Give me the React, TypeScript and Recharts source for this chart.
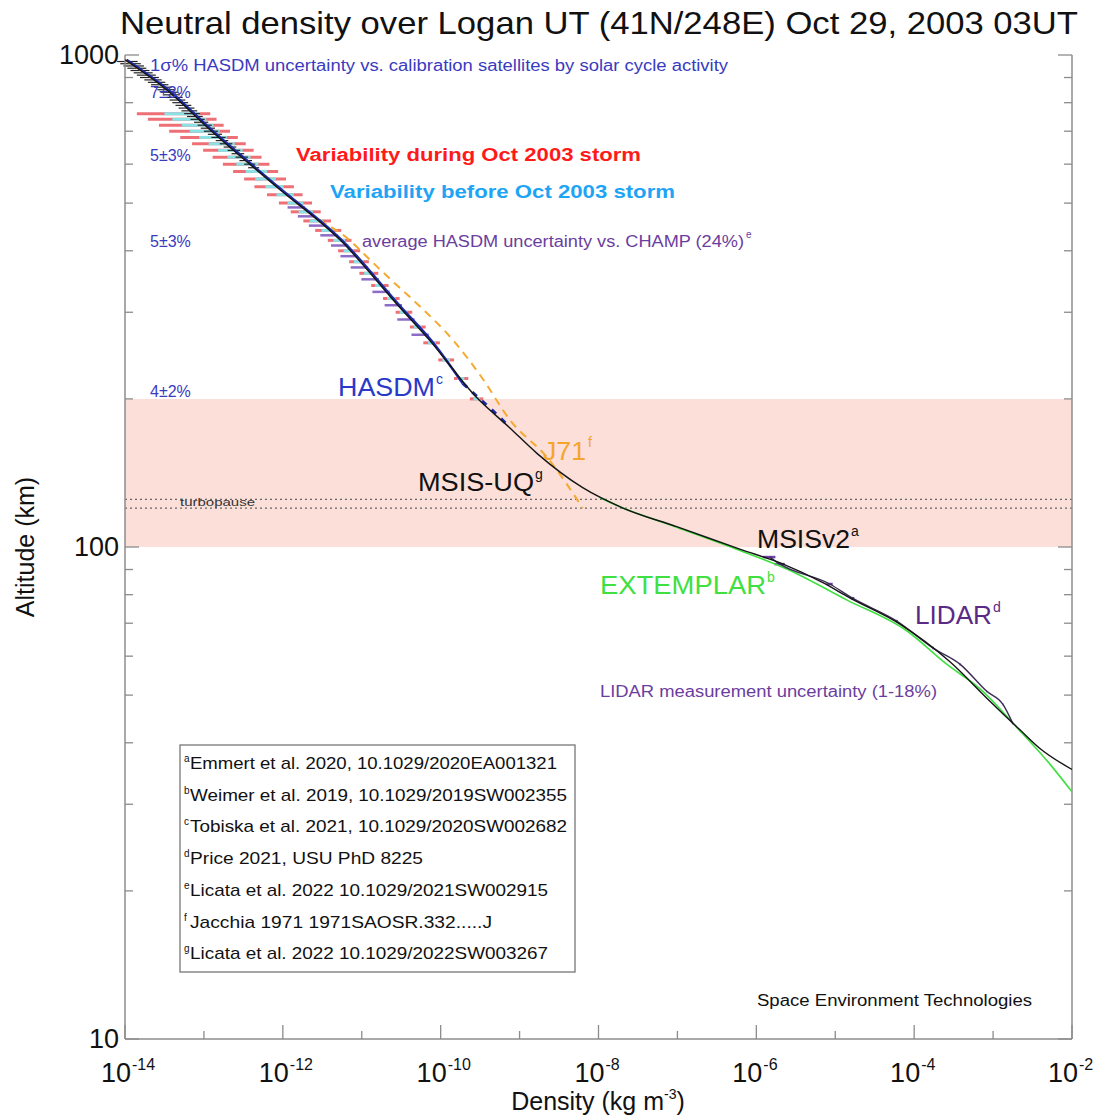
import React from 'react';
import { ScatterChart, Scatter, XAxis, YAxis, ErrorBar, ReferenceArea, ReferenceLine } from 'recharts';

const FONT = '"Liberation Sans", Arial, Helvetica, sans-serif';

// all densities are log10(kg m^-3), altitudes in km

// MSIS-UQ / MSISv2 profile
const msisAlt = [978, 849, 704, 538, 420, 307, 263, 201, 175, 155, 132, 120, 110, 99, 92.3, 84.5, 78.7, 69.7, 58.5, 48.6, 42.5, 39, 35.3];
const msisLogDen = [-14.0, -13.47, -12.92, -12.07, -11.27, -10.52, -10.14, -9.54, -9.13, -8.78, -8.2, -7.69, -7.01, -6.21, -5.66, -5.15, -4.81, -4.18, -3.55, -3.04, -2.66, -2.41, -2.0];

// HASDM profile (solid part + dashed tail)
const hasdmAlt = [978, 849, 704, 538, 420, 307, 263, 215];
const hasdmLogDen = [-13.98, -13.45, -12.9, -12.05, -11.25, -10.5, -10.12, -9.72];
const hasdmTailAlt = [215, 201, 188, 175];
const hasdmTailLogDen = [-9.72, -9.52, -9.32, -9.12];

// Jacchia 1971
const j71Alt = [978, 849, 704, 538, 470, 425, 380, 348, 307, 263, 220, 181, 152, 120];
const j71LogDen = [-14.0, -13.46, -12.9, -12.05, -11.6, -11.19, -10.87, -10.62, -10.25, -9.84, -9.47, -9.12, -8.65, -8.2];

// EXTEMPLAR
const extAlt = [125.9, 120, 110, 99, 90, 78, 67.5, 58, 50.9, 43, 36.2, 31.8];
const extLogDen = [-7.98, -7.69, -7.03, -6.25, -5.6, -4.85, -4.09, -3.6, -3.13, -2.7, -2.28, -2.0];

// LIDAR with measurement uncertainty (%)
const lidarAlt = [95.4, 92.3, 84.1, 78.7, 70.7, 62.3, 57.8, 50.9, 47.9, 43.8];
const lidarLogDen = [-5.83, -5.7, -5.07, -4.78, -4.22, -3.76, -3.42, -3.08, -2.875, -2.75];
const lidarErrPct = [18, 15, 9, 5, 3, 2, 1.5, 1, 1, 1];

// HASDM variability bars, during (red) and before (cyan) the Oct 2003 storm
const barAlt = [760, 740, 720, 700, 680, 660, 640, 620, 600, 580, 560, 540, 520, 500, 480, 460, 440, 420, 400, 380, 360, 340, 320, 300, 280, 260, 240, 220, 200];
const barMid = [-13.15, -13.08, -12.99, -12.91, -12.815, -12.72, -12.62, -12.52, -12.42, -12.31, -12.2, -12.09, -11.96, -11.83, -11.71, -11.57, -11.43, -11.28, -11.16, -11.035, -10.9, -10.77, -10.62, -10.465, -10.29, -10.11, -9.93, -9.74, -9.54];
const redLo = [-13.85, -13.71, -13.57, -13.44, -13.3, -13.15, -13.01, -12.89, -12.76, -12.63, -12.49, -12.36, -12.2, -12.05, -11.9, -11.74, -11.59, -11.43, -11.3, -11.16, -11.03, -10.88, -10.73, -10.57, -10.39, -10.22, -10.03, -9.83, -9.63];
const redHi = [-12.92, -12.84, -12.75, -12.67, -12.57, -12.47, -12.37, -12.27, -12.17, -12.06, -11.96, -11.86, -11.75, -11.63, -11.52, -11.39, -11.26, -11.13, -11.02, -10.91, -10.79, -10.66, -10.52, -10.36, -10.19, -10.01, -9.83, -9.65, -9.46];
const cyanLo = [-13.5, -13.4, -13.28, -13.18, -13.06, -12.94, -12.82, -12.7, -12.59, -12.47, -12.35, -12.22, -12.08, -11.94, -11.8, -11.66, -11.51, -11.36, -11.23, -11.1, -10.97, -10.83, -10.68, -10.52, -10.34, -10.16, -9.98, -9.79, -9.585];
const cyanHi = [-13.05, -12.97, -12.88, -12.8, -12.71, -12.61, -12.51, -12.41, -12.31, -12.2, -12.09, -11.99, -11.86, -11.74, -11.62, -11.49, -11.35, -11.21, -11.1, -10.98, -10.85, -10.72, -10.57, -10.42, -10.24, -10.06, -9.88, -9.7, -9.5];

// HASDM vs CHAMP bars
const champAlt = [490, 470, 450, 430, 410, 390, 370, 350, 330, 310, 290, 270];
const champMid = [-11.77, -11.64, -11.5, -11.355, -11.22, -11.1, -10.97, -10.835, -10.695, -10.54, -10.38, -10.2];
const champLo = [-11.94, -11.81, -11.67, -11.525, -11.39, -11.27, -11.14, -11.005, -10.865, -10.71, -10.55, -10.37];
const champHi = [-11.72, -11.59, -11.45, -11.305, -11.17, -11.05, -10.92, -10.785, -10.645, -10.49, -10.33, -10.15];

// 1-sigma HASDM vs calibration satellites
const sigAlt = [970, 960, 950, 940, 930, 920, 910, 900, 890, 880, 870, 860, 850, 840, 830, 820, 810, 800, 790, 780, 770, 760, 750, 740, 730, 720, 710, 700, 690, 680, 670, 660, 650, 640, 630, 620, 610, 600, 590];
const sigMid = [-13.97, -13.93, -13.89, -13.85, -13.81, -13.77, -13.73, -13.69, -13.645, -13.6, -13.56, -13.52, -13.48, -13.44, -13.405, -13.37, -13.335, -13.3, -13.26, -13.22, -13.185, -13.15, -13.115, -13.08, -13.035, -12.99, -12.95, -12.91, -12.86, -12.815, -12.77, -12.72, -12.67, -12.62, -12.57, -12.52, -12.47, -12.42, -12.37];
const sigHalf = [0.13, 0.13, 0.13, 0.12, 0.12, 0.12, 0.12, 0.12, 0.11, 0.11, 0.11, 0.11, 0.11, 0.11, 0.1, 0.1, 0.1, 0.1, 0.1, 0.1, 0.1, 0.1, 0.1, 0.09, 0.09, 0.09, 0.09, 0.09, 0.09, 0.09, 0.08, 0.08, 0.08, 0.08, 0.08, 0.08, 0.08, 0.07, 0.07];

const xTicks = [1e-14, 1e-13, 1e-12, 1e-11, 1e-10, 1e-9, 1e-8, 1e-7, 1e-6, 1e-5, 1e-4, 1e-3, 1e-2];
const yTicks = [10, 20, 30, 40, 50, 60, 70, 80, 90, 100, 200, 300, 400, 500, 600, 700, 800, 900, 1000];

const den = (e: number) => 10 ** e;
const profile = (alt: number[], logDen: number[]) => alt.map((a, i) => ({ d: den(logDen[i]), alt: a }));
const bars = (alt: number[], mid: number[], lo: number[], hi: number[]) =>
  alt.map((a, i) => {
    const d = den(mid[i]);
    return { d, alt: a, err: [d - den(lo[i]), den(hi[i]) - d] };
  });

const msisData = profile(msisAlt, msisLogDen);
const hasdmData = profile(hasdmAlt, hasdmLogDen);
const hasdmTail = profile(hasdmTailAlt, hasdmTailLogDen);
const j71Data = profile(j71Alt, j71LogDen);
const extData = profile(extAlt, extLogDen);
const lidarData = lidarAlt.map((a, i) => {
  const d = den(lidarLogDen[i]);
  return { d, alt: a, err: [d * lidarErrPct[i] / 100, d * lidarErrPct[i] / 100] };
});
const redData = bars(barAlt, barMid, redLo, redHi);
const cyanData = bars(barAlt, barMid, cyanLo, cyanHi);
const champData = bars(champAlt, champMid, champLo, champHi);
const sigData = sigAlt.map((a, i) => {
  const d = den(sigMid[i]);
  return { d, alt: a, err: [d - den(sigMid[i] - sigHalf[i]), den(sigMid[i] + sigHalf[i]) - d] };
});

const hidden = () => <g />;
const AXIS = '#8c8c8c';

function BottomTick({ x, y, payload }: any) {
  const e = Math.round(Math.log10(payload.value));
  const major = e % 2 === 0;
  return (
    <g>
      <line x1={x} y1={y} x2={x} y2={y - (major ? 14 : 8)} stroke={AXIS} strokeWidth={1.3} />
      {major && (
        <g fontFamily={FONT} fill="#111">
          <text x={x + 6} y={y + 43} textAnchor="end" fontSize={27}>10</text>
          <text x={x + 7} y={y + 31} fontSize={16}>{e}</text>
        </g>
      )}
    </g>
  );
}

function TopTick({ x, y, payload }: any) {
  const e = Math.round(Math.log10(payload.value));
  return <line x1={x} y1={y} x2={x} y2={y + (e % 2 === 0 ? 14 : 8)} stroke={AXIS} strokeWidth={1.3} />;
}

function LeftTick({ x, y, payload }: any) {
  const v = payload.value;
  const major = v === 10 || v === 100 || v === 1000;
  return (
    <g>
      <line x1={x} y1={y} x2={x + (major ? 14 : 8)} y2={y} stroke={AXIS} strokeWidth={1.3} />
      {major && (
        <text x={x - 6} y={y + 9} textAnchor="end" fontSize={27} fill="#111" fontFamily={FONT}>
          {v}
        </text>
      )}
    </g>
  );
}

function RightTick({ x, y, payload }: any) {
  const v = payload.value;
  const major = v === 10 || v === 100 || v === 1000;
  return <line x1={x} y1={y} x2={x - (major ? 14 : 8)} y2={y} stroke={AXIS} strokeWidth={1.3} />;
}

function T({ x, y, s, c = '#111', w, b, children }: any) {
  return (
    <text x={x} y={y} fontSize={s} fill={c} fontWeight={b ? 'bold' : 'normal'} fontFamily={FONT}
      textLength={w} lengthAdjust={w ? 'spacingAndGlyphs' : undefined}>
      {children}
    </text>
  );
}

const refs = [
  ['a', 'Emmert et al. 2020, 10.1029/2020EA001321', 557],
  ['b', 'Weimer et al. 2019, 10.1029/2019SW002355', 567],
  ['c', 'Tobiska et al. 2021, 10.1029/2020SW002682', 567],
  ['d', 'Price 2021, USU PhD 8225', 423],
  ['e', 'Licata et al. 2022 10.1029/2021SW002915', 548],
  ['f', 'Jacchia 1971 1971SAOSR.332.....J', 492],
  ['g', 'Licata et al. 2022 10.1029/2022SW003267', 548],
];

export default function App() {
  return (
    <div style={{ position: 'absolute', left: 0, top: 0, width: 1096, height: 1117, background: '#fff', fontFamily: FONT }}>
      <ScatterChart width={1096} height={1117} margin={{ top: 55, right: 0, bottom: 0, left: 0 }}>
        <XAxis type="number" dataKey="d" scale="log" domain={[1e-14, 1e-2]} ticks={xTicks} interval={0}
          allowDataOverflow height={78} tickSize={0} tickMargin={0} tickLine={false} tick={<BottomTick />}
          axisLine={{ stroke: AXIS, strokeWidth: 1.5 }} />
        <XAxis xAxisId="top" orientation="top" type="number" dataKey="d" scale="log" domain={[1e-14, 1e-2]}
          ticks={xTicks} interval={0} allowDataOverflow height={0} tickSize={0} tickMargin={0} tickLine={false}
          tick={<TopTick />} axisLine={{ stroke: AXIS, strokeWidth: 1.5 }} />
        <YAxis type="number" dataKey="alt" scale="log" domain={[10, 1000]} ticks={yTicks} interval={0}
          allowDataOverflow width={125} tickSize={0} tickMargin={0} tickLine={false} tick={<LeftTick />}
          axisLine={{ stroke: AXIS, strokeWidth: 1.5 }} />
        <YAxis yAxisId="right" orientation="right" type="number" dataKey="alt" scale="log" domain={[10, 1000]}
          ticks={yTicks} interval={0} allowDataOverflow width={24} tickSize={0} tickMargin={0} tickLine={false}
          tick={<RightTick />} axisLine={{ stroke: AXIS, strokeWidth: 1.5 }} />

        <ReferenceArea x1={1e-14} x2={1e-2} y1={100} y2={200} fill="#fbdfd8" fillOpacity={1} stroke="none" />
        <ReferenceLine y={125} stroke="#666" strokeDasharray="2 3" strokeWidth={1.2} />
        <ReferenceLine y={120} stroke="#666" strokeDasharray="2 3" strokeWidth={1.2} />

        <Scatter data={redData} shape={hidden} isAnimationActive={false} legendType="none">
          <ErrorBar dataKey="err" direction="x" width={0} stroke="#ee6f76" strokeWidth={3} isAnimationActive={false} />
        </Scatter>
        <Scatter data={cyanData} shape={hidden} isAnimationActive={false} legendType="none">
          <ErrorBar dataKey="err" direction="x" width={0} stroke="#8ae2e6" strokeWidth={3} isAnimationActive={false} />
        </Scatter>
        <Scatter data={champData} shape={hidden} isAnimationActive={false} legendType="none">
          <ErrorBar dataKey="err" direction="x" width={0} stroke="#8c6cc6" strokeWidth={2.5} isAnimationActive={false} />
        </Scatter>

        <Scatter data={j71Data} shape={hidden} fill="#f5a930" line={{ stroke: '#f5a930', strokeWidth: 2, strokeDasharray: '8 6' }}
          lineJointType="monotoneX" isAnimationActive={false} legendType="none" />
        <Scatter data={hasdmData} shape={hidden} fill="#1c2aa8" line={{ stroke: '#1c2aa8', strokeWidth: 2.4 }}
          lineJointType="monotoneX" isAnimationActive={false} legendType="none" />
        <Scatter data={hasdmTail} shape={hidden} fill="#1c2aa8" line={{ stroke: '#1c2aa8', strokeWidth: 3, strokeDasharray: '6 7' }}
          isAnimationActive={false} legendType="none" />
        <Scatter data={extData} shape={hidden} fill="#3fe03f" line={{ stroke: '#3fe03f', strokeWidth: 1.6 }}
          lineJointType="monotoneX" isAnimationActive={false} legendType="none" />
        <Scatter data={lidarData} shape={hidden} fill="#3c2c55" line={{ stroke: '#3c2c55', strokeWidth: 1.4 }}
          lineJointType="monotoneX" isAnimationActive={false} legendType="none">
          <ErrorBar dataKey="err" direction="x" width={0} stroke="#6e40a8" strokeWidth={2.5} isAnimationActive={false} />
        </Scatter>
        <Scatter data={msisData} shape={hidden} fill="#151515" line={{ stroke: '#151515', strokeWidth: 1.4 }}
          lineJointType="monotoneX" isAnimationActive={false} legendType="none" />
        <Scatter data={sigData} shape={hidden} isAnimationActive={false} legendType="none">
          <ErrorBar dataKey="err" direction="x" width={0} stroke="#222" strokeWidth={1.2} isAnimationActive={false} />
        </Scatter>
      </ScatterChart>

      <svg width={1096} height={1117} style={{ position: 'absolute', left: 0, top: 0, pointerEvents: 'none' }}>
        <T x={120} y={34} s={32} w={958}>Neutral density over Logan UT (41N/248E) Oct 29, 2003 03UT</T>
        <text transform="translate(34,547) rotate(-90)" textAnchor="middle" fontSize={25} fill="#111" fontFamily={FONT}>
          Altitude (km)
        </text>
        <text x={598} y={1110} textAnchor="middle" fontSize={25} fill="#111" fontFamily={FONT}>
          Density (kg m<tspan fontSize={14} dy={-11}>-3</tspan><tspan dy={11}>)</tspan>
        </text>

        <T x={150} y={71} s={16} c="#3a3abf" w={578}>1σ% HASDM uncertainty vs. calibration satellites by solar cycle activity</T>
        <T x={150} y={98} s={16} c="#3a3abf">7±3%</T>
        <T x={150} y={161} s={16} c="#3a3abf">5±3%</T>
        <T x={150} y={247} s={16} c="#3a3abf">5±3%</T>
        <T x={150} y={397} s={16} c="#3a3abf">4±2%</T>

        <T x={296} y={161} s={18} c="#ff1a1a" w={345} b>Variability during Oct 2003 storm</T>
        <T x={330} y={198} s={18} c="#1ea4f5" w={345} b>Variability before Oct 2003 storm</T>
        <T x={362} y={247} s={16} c="#6b3d9e" w={382}>average HASDM uncertainty vs. CHAMP (24%)</T>
        <T x={746} y={238} s={10} c="#6b3d9e">e</T>

        <T x={338} y={396} s={25} c="#2a3ac8" w={97}>HASDM</T>
        <T x={436} y={384} s={14} c="#2a3ac8">c</T>
        <T x={543} y={460} s={25} c="#f4a52a" w={43}>J71</T>
        <T x={588} y={447} s={14} c="#f4a52a">f</T>
        <T x={418} y={491} s={25} w={116}>MSIS-UQ</T>
        <T x={535} y={479} s={14}>g</T>
        <T x={757} y={548} s={25} w={93}>MSISv2</T>
        <T x={851} y={536} s={14}>a</T>
        <T x={600} y={594} s={25} c="#3fe03f" w={166}>EXTEMPLAR</T>
        <T x={767} y={582} s={14} c="#3fe03f">b</T>
        <T x={915} y={624} s={25} c="#5b2a86" w={77}>LIDAR</T>
        <T x={993} y={612} s={14} c="#5b2a86">d</T>
        <T x={600} y={697} s={16} c="#6b3d9e" w={337}>LIDAR measurement uncertainty (1-18%)</T>
        <T x={180} y={506} s={11} c="#333" w={75}>turbopause</T>
        <T x={757} y={1006} s={16} w={275}>Space Environment Technologies</T>

        <rect x={180} y={745} width={395} height={227} fill="#fff" stroke="#777" strokeWidth={1.3} />
        {refs.map(([sup, txt, end], i) => {
          const yb = 769 + i * 31.7;
          return (
            <g key={sup as string}>
              <T x={184} y={yb - 7} s={10}>{sup}</T>
              <T x={190} y={yb} s={17} w={(end as number) - 190}>{txt}</T>
            </g>
          );
        })}
      </svg>
    </div>
  );
}
